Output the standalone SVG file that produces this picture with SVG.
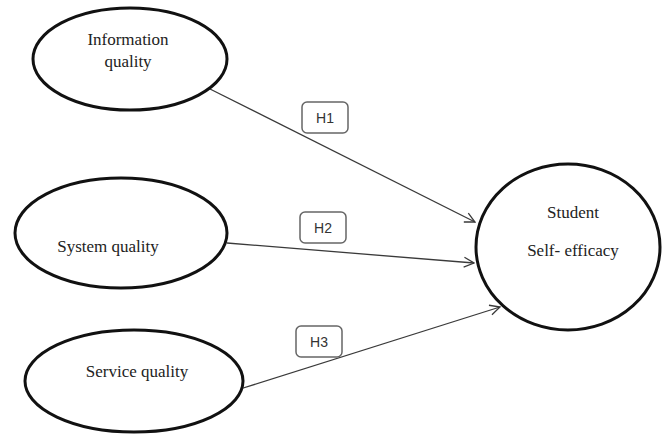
<svg xmlns="http://www.w3.org/2000/svg" width="664" height="437" viewBox="0 0 664 437">
<style>
.node{fill:#fff;stroke:#111;stroke-width:3}
.lbl{font-family:"Liberation Serif","Times New Roman",serif;font-size:17px;fill:#222;text-anchor:middle}
.conn{stroke:#3a3a3a;stroke-width:1.3;fill:none;marker-end:url(#arr)}
.hbox{fill:#fff;stroke:#666;stroke-width:1.5}
.htxt{font-family:"Liberation Sans",Arial,sans-serif;font-size:14px;fill:#333;text-anchor:middle}
</style>
<defs>
<marker id="arr" viewBox="0 0 12 12" refX="11" refY="6" markerWidth="12" markerHeight="12" markerUnits="userSpaceOnUse" orient="auto">
<path d="M1,1 L11,6 L1,11" fill="none" stroke="#3a3a3a" stroke-width="1.3"/>
</marker>
</defs>
<rect width="664" height="437" fill="#fff"/>
<g id="connectors">
<line class="conn" x1="210" y1="89" x2="475" y2="222"/>
<line class="conn" x1="227" y1="243" x2="474" y2="263"/>
<line class="conn" x1="240" y1="389" x2="500" y2="307"/>
</g>
<g id="h1"><rect class="hbox" x="302" y="102" width="46" height="31" rx="5"/><text class="htxt" x="325" y="122.5">H1</text></g>
<g id="h2"><rect class="hbox" x="300" y="212" width="46" height="31" rx="5"/><text class="htxt" x="323" y="232.5">H2</text></g>
<g id="h3"><rect class="hbox" x="296" y="326" width="46" height="31" rx="5"/><text class="htxt" x="319" y="346.5">H3</text></g>
<g id="info">
<ellipse class="node" cx="130" cy="59" rx="97" ry="51"/>
<text class="lbl" x="128" y="45">Information</text>
<text class="lbl" x="128" y="67">quality</text>
</g>
<g id="system">
<ellipse class="node" cx="121" cy="233" rx="106" ry="55"/>
<text class="lbl" x="108" y="252">System quality</text>
</g>
<g id="service">
<ellipse class="node" cx="134" cy="381" rx="109" ry="51"/>
<text class="lbl" x="137" y="377">Service quality</text>
</g>
<g id="student">
<ellipse class="node" cx="568" cy="247" rx="92" ry="83"/>
<text class="lbl" x="573" y="218">Student</text>
<text class="lbl" x="573" y="256">Self- efficacy</text>
</g>
</svg>
